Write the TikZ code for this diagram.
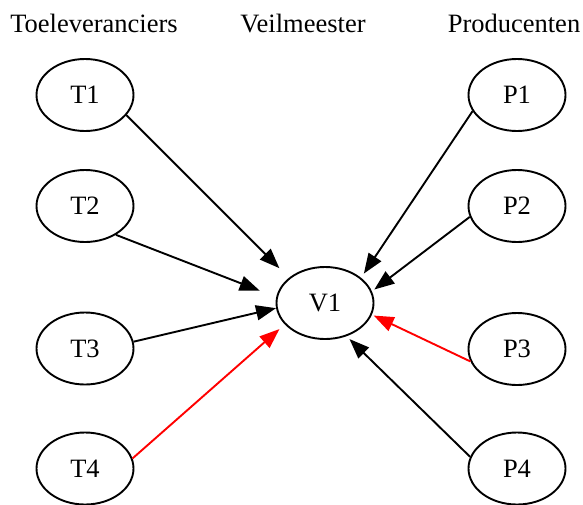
\documentclass[tikz,border=0pt]{standalone}
\usepackage{fontspec}
\setmainfont{Liberation Serif}
\usetikzlibrary{shapes, arrows.meta, positioning}

\begin{document}
\begin{tikzpicture}[x=1pt, y=-1pt,
    party/.style={draw, ellipse, line width=1.9pt, minimum width=97pt, minimum height=72pt, inner sep=0pt, font=\fontsize{26.5}{31}\selectfont},
    role/.style={anchor=base, font=\fontsize{26.5}{31}\selectfont},
    bid/.style={line width=1.9pt, -{Triangle[length=20pt, width=15pt]}}]
        \useasboundingbox (0,0) rectangle (583,504);

        % Headings
        \node[role] (hT) at (94,32) {Toeleveranciers};
        \node[role] (hV) at (303,32) {Veilmeester};
        \node[role] (hP) at (514,32) {Producenten};

        % Toeleveranciers
        \node[party] (T1) at (85,95) {T1};
        \node[party] (T2) at (85,206) {T2};
        \node[party] (T3) at (85,348.5) {T3};
        \node[party] (T4) at (85,468.5) {T4};

        % Veilmeester
        \node[party] (V1) at (325,303) {V1};

        % Producenten
        \node[party] (P1) at (517,95) {P1};
        \node[party] (P2) at (517,206) {P2};
        \node[party] (P3) at (517,349) {P3};
        \node[party] (P4) at (517,468.5) {P4};

        % Arrows to V1
        \foreach \src/\a/\b/\s/\col in {T1/334/145.4/13.5/black, T2/317/173/17.7/black,
                T3/8.9/186.2/0/black, T4/12.9/208.4/7/red, P1/200/35.3/5/black,
                P2/193.2/14.4/3/black, P3/195.2/346.6/2/red, P4/166.3/303.5/4/black} {
            \draw[bid, \col, shorten >=\s pt] (\src.\a) -- (V1.\b);
        }
    \end{tikzpicture}
\end{document}
